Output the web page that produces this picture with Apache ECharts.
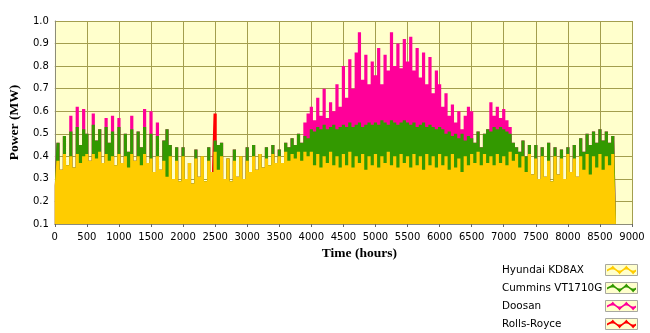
<!DOCTYPE html>
<html><head><meta charset="utf-8">
<script src="https://cdn.jsdelivr.net/npm/echarts@6/dist/echarts.min.js"></script>
<style>html,body{margin:0;padding:0;background:#fff}#c{width:650px;height:333px}</style>
</head><body><div id="c"></div>
<script>
// Stacked power levels (MW, cumulative top of each layer) read every 50 hours
const stepHours = 50;
const seriesNames = ['Hyundai KD8AX', 'Cummins VT1710G', 'Doosan', 'Rolls-Royce'];
const hyundaiLevel = [
0.27,0.38,0.34,0.41,0.36,0.40,0.35,0.41,0.37,0.40,
0.41,0.38,0.41,0.39,0.42,0.37,0.41,0.38,0.40,0.36,
0.41,0.37,0.40,0.35,0.41,0.38,0.40,0.36,0.41,0.37,
0.39,0.33,0.40,0.34,0.38,0.31,0.40,0.30,0.38,0.29,
0.40,0.30,0.37,0.28,0.39,0.31,0.40,0.29,0.38,0.33,
0.42,0.34,0.40,0.30,0.39,0.29,0.38,0.31,0.40,0.30,
0.38,0.33,0.40,0.34,0.41,0.35,0.39,0.36,0.41,0.37,
0.40,0.37,0.42,0.38,0.41,0.39,0.42,0.38,0.42,0.40,
0.42,0.36,0.41,0.35,0.40,0.37,0.42,0.36,0.40,0.35,
0.41,0.36,0.42,0.35,0.40,0.37,0.41,0.34,0.40,0.36,
0.41,0.35,0.40,0.37,0.42,0.36,0.40,0.35,0.41,0.37,
0.40,0.35,0.41,0.36,0.40,0.34,0.41,0.36,0.40,0.35,
0.41,0.36,0.40,0.34,0.41,0.35,0.39,0.33,0.40,0.36,
0.41,0.37,0.42,0.36,0.41,0.37,0.40,0.36,0.41,0.37,
0.40,0.36,0.42,0.38,0.41,0.35,0.40,0.33,0.41,0.32,
0.39,0.30,0.40,0.31,0.38,0.29,0.40,0.32,0.39,0.30,
0.41,0.33,0.39,0.31,0.40,0.34,0.41,0.32,0.40,0.35,
0.41,0.34,0.40,0.36,0.41,0.33];
const cumminsLevel = [
0.27,0.46,0.34,0.49,0.36,0.51,0.35,0.53,0.45,0.52,
0.50,0.38,0.54,0.47,0.52,0.37,0.53,0.46,0.51,0.36,
0.53,0.37,0.50,0.42,0.52,0.38,0.51,0.44,0.53,0.37,
0.50,0.33,0.49,0.34,0.47,0.52,0.45,0.30,0.44,0.29,
0.44,0.30,0.37,0.28,0.43,0.31,0.40,0.29,0.44,0.33,
0.47,0.45,0.46,0.30,0.39,0.29,0.43,0.31,0.40,0.30,
0.44,0.33,0.45,0.34,0.41,0.35,0.44,0.36,0.45,0.37,
0.43,0.37,0.46,0.44,0.48,0.45,0.50,0.46,0.49,0.48,
0.52,0.51,0.53,0.52,0.54,0.52,0.53,0.54,0.52,0.53,
0.54,0.53,0.55,0.53,0.54,0.55,0.53,0.54,0.55,0.54,
0.55,0.54,0.56,0.55,0.54,0.56,0.55,0.54,0.55,0.56,
0.55,0.54,0.55,0.53,0.54,0.55,0.53,0.54,0.53,0.52,
0.53,0.52,0.50,0.51,0.49,0.50,0.48,0.50,0.47,0.49,
0.48,0.46,0.51,0.44,0.50,0.52,0.51,0.53,0.52,0.53,
0.52,0.51,0.50,0.46,0.44,0.42,0.47,0.40,0.45,0.32,
0.45,0.30,0.44,0.31,0.46,0.29,0.44,0.32,0.43,0.30,
0.44,0.33,0.45,0.31,0.48,0.42,0.50,0.45,0.51,0.46,
0.52,0.47,0.51,0.46,0.49,0.47];
const doosanLevel = [
0.27,0.46,0.34,0.49,0.36,0.58,0.35,0.62,0.45,0.61,
0.50,0.38,0.59,0.47,0.52,0.37,0.57,0.46,0.58,0.36,
0.57,0.37,0.50,0.42,0.58,0.38,0.51,0.44,0.61,0.37,
0.60,0.33,0.55,0.34,0.47,0.52,0.45,0.30,0.44,0.29,
0.44,0.30,0.37,0.28,0.43,0.31,0.40,0.29,0.44,0.33,
0.47,0.45,0.46,0.30,0.39,0.29,0.43,0.31,0.40,0.30,
0.44,0.33,0.45,0.34,0.41,0.35,0.44,0.36,0.45,0.37,
0.43,0.37,0.46,0.44,0.48,0.45,0.50,0.46,0.55,0.59,
0.62,0.56,0.66,0.58,0.70,0.57,0.64,0.60,0.72,0.62,
0.80,0.66,0.83,0.70,0.86,0.95,0.74,0.85,0.72,0.82,
0.76,0.88,0.72,0.85,0.78,0.95,0.80,0.90,0.79,0.92,
0.82,0.93,0.78,0.88,0.75,0.86,0.72,0.84,0.68,0.78,
0.72,0.62,0.68,0.58,0.63,0.55,0.60,0.52,0.58,0.62,
0.60,0.46,0.51,0.44,0.50,0.52,0.64,0.58,0.62,0.57,
0.61,0.56,0.53,0.46,0.44,0.42,0.47,0.40,0.45,0.32,
0.45,0.30,0.44,0.31,0.46,0.29,0.44,0.32,0.43,0.30,
0.44,0.33,0.45,0.31,0.48,0.42,0.50,0.45,0.51,0.46,
0.52,0.47,0.51,0.46,0.49,0.47];
const rollsHours = [2450, 2500, 2550];
const rollsLevel = [0.33, 0.59, 0.45];

const colors = ['#FFCC00', '#339900', '#FF0099', '#FF0000'];
const toPairs = arr => arr.map((v, i) => [i * stepHours, v]);

function areaSeries(name, data, color, z) {
  return {
    name, type: 'line', data, step: 'middle', symbol: 'none', showSymbol: false,
    z, lineStyle: {width: 0}, itemStyle: {color},
    areaStyle: {color, opacity: 1, origin: 'start'}, animation: false
  };
}

// legend drawn as text + sample boxes (text left, sample on the right)
const legendRows = [270, 288, 306, 324];
const iconShapes = [
  [[0,4],[6,1],[13,6],[20,1],[27,6],[30,4],[30,6],[27,8],[20,3],[13,8],[6,3],[0,6]],
  [[3,4],[6,0],[9,4]], [[17,4],[20,0],[23,4]], [[10,5],[13,9],[16,5]], [[24,5],[27,9],[30,5]]
];
const legendGraphics = [];
seriesNames.forEach((name, i) => {
  const y = legendRows[i];
  legendGraphics.push({
    type: 'text', x: 502, y, z: 10,
    style: {text: name, font: '10.4px "DejaVu Sans"', fill: '#000', verticalAlign: 'middle', align: 'left'}
  });
  legendGraphics.push({
    type: 'rect', z: 10, shape: {x: 605.5, y: y - 5.5, width: 32, height: 11},
    style: {fill: '#FFFFCC', stroke: '#A8A8A0', lineWidth: 1}
  });
  iconShapes.forEach(pts => legendGraphics.push({
    type: 'polygon', z: 11,
    shape: {points: pts.map(p => [607 + p[0] * 29 / 30, y - 4.5 + p[1]])},
    style: {fill: colors[i]}
  }));
});

const chart = echarts.init(document.getElementById('c'), null, {renderer: 'canvas'});
const gridColor = '#A39E4E';
chart.setOption({
  animation: false,
  grid: {left: 52, top: 21, width: 580, height: 203, show: true, backgroundColor: '#FFFFCC', borderWidth: 0},
  xAxis: {
    type: 'value', min: 0, max: 9000, interval: 500,
    name: 'Time (hours)', nameLocation: 'middle', nameGap: 22,
    nameTextStyle: {fontFamily: 'Liberation Serif', fontWeight: 'bold', fontSize: 13.5, color: '#000', padding: [0, 0, 0, 32]},
    axisLine: {show: true, lineStyle: {color: '#8C8C7A', width: 1}},
    axisTick: {show: true, length: 3, lineStyle: {color: '#666'}},
    axisLabel: {fontFamily: 'DejaVu Sans', fontSize: 10, color: '#000', margin: 8, formatter: v => String(v)},
    splitLine: {show: true, lineStyle: {color: gridColor, width: 1}}
  },
  yAxis: {
    type: 'value', min: 0.1, max: 1.0, interval: 0.1,
    name: 'Power (MW)', nameLocation: 'middle', nameGap: 27, nameRotate: 90,
    nameTextStyle: {fontFamily: 'Liberation Serif', fontWeight: 'bold', fontSize: 13.5, color: '#000'},
    axisLine: {show: true, lineStyle: {color: '#8C8C7A', width: 1}},
    axisTick: {show: false},
    axisLabel: {fontFamily: 'DejaVu Sans', fontSize: 10, color: '#000', margin: 6, formatter: v => v.toFixed(1)},
    splitLine: {show: true, lineStyle: {color: gridColor, width: 1}}
  },
  graphic: legendGraphics,
  series: [
    areaSeries(seriesNames[3], rollsHours.map((h, i) => [h, rollsLevel[i]]), colors[3], 2),
    areaSeries(seriesNames[2], toPairs(doosanLevel), colors[2], 3),
    areaSeries(seriesNames[1], toPairs(cumminsLevel), colors[1], 4),
    areaSeries(seriesNames[0], toPairs(hyundaiLevel), colors[0], 5)
  ]
});
</script></body></html>
